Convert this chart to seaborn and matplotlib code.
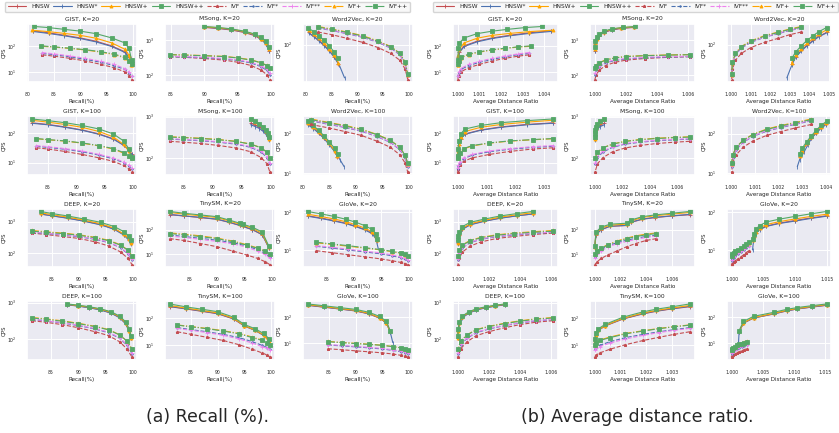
import pandas as pd
import matplotlib
matplotlib.use("Agg")
import matplotlib.pyplot as plt
from matplotlib.lines import Line2D
from matplotlib.ticker import MultipleLocator, FormatStrFormatter, NullLocator
import seaborn as sns

METHODS = ["HNSW", "HNSW*", "HNSW+", "HNSW++", "IVF", "IVF*", "IVF**", "IVF+", "IVF++"]
PANELS = [("GIST", 20), ("MSong", 20), ("Word2Vec", 20),
          ("GIST", 100), ("MSong", 100), ("Word2Vec", 100),
          ("DEEP", 20), ("TinySM", 20), ("GloVe", 20),
          ("DEEP", 100), ("TinySM", 100), ("GloVe", 100)]

# ---------------- GIST, K=20 ----------------
gist20_recall = [
    [81.0, 84, 87, 90, 93, 96, 98.5, 99.3, 99.8],
    [81.0, 84, 87, 90, 93, 96, 98.5, 99.3, 99.8],
    [80.8, 84, 87, 90, 93, 96, 98.5, 99.3, 99.7],
    [81.3, 84, 87, 90, 93, 96, 98.5, 99.3, 99.8],
    [82.8, 85, 88, 91, 94, 96.5, 98.5, 99.4, 99.9],
    [82.8, 85, 88, 91, 94, 96.5, 98.5, 99.4, 99.9],
    [82.8, 85, 88, 91, 94, 96.5, 98.5, 99.4, 99.9],
    [82.6, 85, 88, 91, 94, 96.5, 98.5, 99.4, 99.8],
    [82.6, 85, 88, 91, 94, 96.5, 98.5, 99.4, 99.8],
]
gist20_ratio = [
    [1.0043, 1.0033, 1.0024, 1.0016, 1.0009, 1.0003, 1.00008, 1.00003, 1.000005],
    [1.0043, 1.0033, 1.0024, 1.0016, 1.0009, 1.0003, 1.00008, 1.00003, 1.000005],
    [1.0044, 1.0033, 1.0024, 1.0016, 1.0009, 1.0003, 1.00008, 1.00003, 1.000005],
    [1.0039, 1.0031, 1.0023, 1.0016, 1.0009, 1.0003, 1.00008, 1.00003, 1.000005],
    [1.0033, 1.0028, 1.0022, 1.0016, 1.0010, 1.0005, 1.00015, 1.00004, 1.000005],
    [1.0033, 1.0028, 1.0022, 1.0016, 1.0010, 1.0005, 1.00015, 1.00004, 1.000005],
    [1.0033, 1.0028, 1.0022, 1.0016, 1.0010, 1.0005, 1.00015, 1.00004, 1.000005],
    [1.0034, 1.0028, 1.0022, 1.0016, 1.0010, 1.0005, 1.00015, 1.00004, 1.000005],
    [1.0034, 1.0028, 1.0022, 1.0016, 1.0010, 1.0005, 1.00015, 1.00004, 1.000005],
]
gist20_qps = [
    [370, 310, 250, 200, 150, 100, 60, 38, 21],
    [350, 295, 240, 190, 142, 95, 57, 36, 20],
    [390, 345, 295, 250, 195, 130, 75, 45, 19],
    [540, 490, 420, 360, 290, 200, 130, 80, 30],
    [46, 41, 34, 27, 20, 15, 10.5, 7.5, 5.3],
    [52, 47, 39, 31, 24, 18, 13, 9.5, 7],
    [56, 50, 42, 34, 26, 20, 14, 10, 7.5],
    [97, 90, 80, 70, 58, 47, 35, 26, 19],
    [100, 92, 82, 72, 60, 49, 37, 27, 20],
]

# ---------------- MSong, K=20 ----------------
msong20_recall = [
    [90.0, 92, 94, 96, 97.5, 98.5, 99.2, 99.7],
    [90.0, 92, 94, 96, 97.5, 98.5, 99.2, 99.7],
    [90.0, 92, 94, 96, 97.5, 98.5, 99.2, 99.7],
    [90.0, 92, 94, 96, 97.5, 98.5, 99.2, 99.7],
    [84.8, 87, 90, 93, 95, 97, 98.5, 99.3, 99.8],
    [84.8, 87, 90, 93, 95, 97, 98.5, 99.3, 99.8],
    [84.8, 87, 90, 93, 95, 97, 98.5, 99.3, 99.8],
    [84.8, 87, 90, 93, 95, 97, 98.5, 99.3, 99.8],
    [84.8, 87, 90, 93, 95, 97, 98.5, 99.3, 99.8],
]
msong20_ratio = [
    [1.0025, 1.0017, 1.0011, 1.0006, 1.0003, 1.00012, 1.00004, 1.000005],
    [1.0025, 1.0017, 1.0011, 1.0006, 1.0003, 1.00012, 1.00004, 1.000005],
    [1.0025, 1.0017, 1.0011, 1.0006, 1.0003, 1.00012, 1.00004, 1.000005],
    [1.0026, 1.0018, 1.0011, 1.0006, 1.0003, 1.00012, 1.00004, 1.000005],
    [1.0061, 1.0047, 1.0032, 1.0020, 1.0013, 1.0007, 1.0003, 1.0001, 1.00001],
    [1.0061, 1.0047, 1.0032, 1.0020, 1.0013, 1.0007, 1.0003, 1.0001, 1.00001],
    [1.0061, 1.0047, 1.0032, 1.0020, 1.0013, 1.0007, 1.0003, 1.0001, 1.00001],
    [1.0061, 1.0047, 1.0032, 1.0020, 1.0013, 1.0007, 1.0003, 1.0001, 1.00001],
    [1.0061, 1.0047, 1.0032, 1.0020, 1.0013, 1.0007, 1.0003, 1.0001, 1.00001],
]
msong20_qps = [
    [2300, 2150, 1950, 1650, 1350, 1050, 800, 500],
    [2350, 2200, 2000, 1700, 1400, 1050, 780, 480],
    [2400, 2250, 2050, 1750, 1450, 1100, 850, 560],
    [2450, 2300, 2100, 1800, 1500, 1200, 950, 650],
    [340, 325, 300, 270, 235, 190, 140, 105, 75],
    [340, 330, 315, 290, 265, 225, 175, 140, 105],
    [350, 340, 325, 300, 275, 235, 185, 150, 115],
    [390, 380, 365, 345, 315, 275, 228, 192, 158],
    [385, 375, 360, 340, 310, 270, 225, 190, 160],
]

# ---------------- Word2Vec, K=20 ----------------
w2v20_recall = [
    [80.5, 81.5, 82.5, 83.5, 84.5, 85.5, 86.3],
    [80.5, 81.5, 82.5, 83.5, 84.5, 85.5, 86.5, 87.5],
    [80.5, 81.5, 82.5, 83.5, 84.5, 85.5, 86.3],
    [80.3, 81.5, 82.5, 83.5, 84.5, 85.5, 86.3],
    [82.3, 85, 88, 91, 94, 96.5, 98.3, 99.3, 99.8],
    [82.3, 85, 88, 91, 94, 96.5, 98.3, 99.3, 99.8],
    [82.3, 85, 88, 91, 94, 96.5, 98.3, 99.3, 99.8],
    [82.3, 85, 88, 91, 94, 96.5, 98.3, 99.3, 99.8],
    [82.3, 85, 88, 91, 94, 96.5, 98.3, 99.3, 99.8],
]
w2v20_ratio = [
    [1.0049, 1.0045, 1.0042, 1.0039, 1.0036, 1.0033, 1.0031],
    [1.0049, 1.0045, 1.0042, 1.0039, 1.0036, 1.0033, 1.0031, 1.00285],
    [1.0049, 1.0045, 1.0042, 1.0039, 1.0036, 1.0033, 1.0031],
    [1.0049, 1.0045, 1.0042, 1.0039, 1.0036, 1.0033, 1.0031],
    [1.0036, 1.0030, 1.0024, 1.0017, 1.0010, 1.0005, 1.0002, 1.00005, 1.00001],
    [1.0036, 1.0030, 1.0024, 1.0017, 1.0010, 1.0005, 1.0002, 1.00005, 1.00001],
    [1.0036, 1.0030, 1.0024, 1.0017, 1.0010, 1.0005, 1.0002, 1.00005, 1.00001],
    [1.0036, 1.0030, 1.0024, 1.0017, 1.0010, 1.0005, 1.0002, 1.00005, 1.00001],
    [1.0036, 1.0030, 1.0024, 1.0017, 1.0010, 1.0005, 1.0002, 1.00005, 1.00001],
]
w2v20_qps = [
    [205, 165, 130, 98, 72, 50, 33],
    [200, 160, 125, 95, 70, 48, 30, 14.5],
    [240, 185, 145, 110, 80, 55, 35],
    [273, 215, 170, 130, 95, 65, 45],
    [210, 180, 145, 115, 85, 60, 40, 24, 13],
    [265, 230, 190, 155, 115, 82, 55, 32, 16],
    [270, 235, 195, 158, 118, 84, 57, 33, 16],
    [290, 250, 210, 170, 125, 90, 60, 35, 17],
    [280, 245, 205, 165, 122, 88, 60, 36, 18],
]

# ---------------- GIST, K=100 ----------------
gist100_recall = [
    [82.2, 85, 88, 91, 94, 96.5, 98.3, 99.2, 99.7],
    [82.2, 85, 88, 91, 94, 96.5, 98.3, 99.2, 99.7],
    [82.2, 85, 88, 91, 94, 96.5, 98.3, 99.2, 99.7],
    [82.2, 85, 88, 91, 94, 96.5, 98.3, 99.2, 99.7],
    [83.0, 85, 88, 91, 94, 96.5, 98.3, 99.3, 99.8],
    [83.0, 85, 88, 91, 94, 96.5, 98.3, 99.3, 99.8],
    [83.0, 85, 88, 91, 94, 96.5, 98.3, 99.3, 99.8],
    [83.0, 85, 88, 91, 94, 96.5, 98.3, 99.3, 99.8],
    [83.0, 85, 88, 91, 94, 96.5, 98.3, 99.3, 99.8],
]
gist100_ratio = [
    [1.0033, 1.0024, 1.0015, 1.0008, 1.00025, 1.0001, 1.00004, 1.00001, 1.000002],
    [1.0033, 1.0024, 1.0015, 1.0008, 1.00025, 1.0001, 1.00004, 1.00001, 1.000002],
    [1.0033, 1.0024, 1.0015, 1.0008, 1.00025, 1.0001, 1.00004, 1.00001, 1.000002],
    [1.0033, 1.0024, 1.0015, 1.0008, 1.00025, 1.0001, 1.00004, 1.00001, 1.000002],
    [1.0033, 1.0026, 1.0018, 1.0011, 1.0005, 1.0002, 1.00007, 1.00002, 1.000003],
    [1.0033, 1.0026, 1.0018, 1.0011, 1.0005, 1.0002, 1.00007, 1.00002, 1.000003],
    [1.0033, 1.0026, 1.0018, 1.0011, 1.0005, 1.0002, 1.00007, 1.00002, 1.000003],
    [1.0033, 1.0026, 1.0018, 1.0011, 1.0005, 1.0002, 1.00007, 1.00002, 1.000003],
    [1.0033, 1.0026, 1.0018, 1.0011, 1.0005, 1.0002, 1.00007, 1.00002, 1.000003],
]
gist100_qps = [
    [227, 200, 165, 130, 95, 65, 40, 28, 20],
    [220, 195, 160, 127, 92, 63, 39, 27, 19],
    [278, 240, 200, 160, 115, 75, 42, 25, 16],
    [308, 270, 230, 185, 140, 95, 55, 30, 15],
    [32, 29, 24, 19, 14.5, 11, 8, 6, 4.7],
    [36, 33, 28.5, 23.5, 18, 13.5, 10, 7.5, 6],
    [38, 35, 30, 25, 19, 14.5, 10.5, 8, 6.3],
    [65, 60, 54, 46, 37, 29, 21, 16.5, 14],
    [66, 61, 55, 47, 38, 30, 22, 17, 14],
]

# ---------------- MSong, K=100 ----------------
msong100_recall = [
    [96.5, 97.3, 98.0, 98.6, 99.1, 99.4, 99.6],
    [96.5, 97.3, 98.0, 98.6, 99.1, 99.4, 99.6],
    [96.5, 97.3, 98.0, 98.6, 99.1, 99.4, 99.6],
    [96.5, 97.3, 98.0, 98.6, 99.1, 99.4, 99.6],
    [82.7, 85, 88, 91, 94, 96.5, 98.3, 99.3, 99.8],
    [82.7, 85, 88, 91, 94, 96.5, 98.3, 99.3, 99.8],
    [82.7, 85, 88, 91, 94, 96.5, 98.3, 99.3, 99.8],
    [82.7, 85, 88, 91, 94, 96.5, 98.3, 99.3, 99.8],
    [82.7, 85, 88, 91, 94, 96.5, 98.3, 99.3, 99.8],
]
msong100_ratio = [
    [1.0007, 1.0004, 1.0002, 1.0001, 1.00004, 1.00001, 1.000002],
    [1.0007, 1.0004, 1.0002, 1.0001, 1.00004, 1.00001, 1.000002],
    [1.0007, 1.0004, 1.0002, 1.0001, 1.00004, 1.00001, 1.000002],
    [1.0007, 1.0004, 1.0002, 1.0001, 1.00004, 1.00001, 1.000002],
    [1.0069, 1.0058, 1.0045, 1.0033, 1.0022, 1.0013, 1.0006, 1.0002, 1.00002],
    [1.0069, 1.0058, 1.0045, 1.0033, 1.0022, 1.0013, 1.0006, 1.0002, 1.00002],
    [1.0069, 1.0058, 1.0045, 1.0033, 1.0022, 1.0013, 1.0006, 1.0002, 1.00002],
    [1.0069, 1.0058, 1.0045, 1.0033, 1.0022, 1.0013, 1.0006, 1.0002, 1.00002],
    [1.0069, 1.0058, 1.0045, 1.0033, 1.0022, 1.0013, 1.0006, 1.0002, 1.00002],
]
msong100_qps = [
    [700, 630, 560, 490, 410, 340, 290],
    [640, 580, 520, 450, 380, 320, 270],
    [860, 760, 660, 560, 460, 380, 300],
    [880, 780, 680, 580, 480, 400, 330],
    [257, 245, 228, 205, 178, 145, 105, 75, 47],
    [290, 280, 265, 245, 220, 185, 143, 105, 72],
    [297, 287, 272, 252, 228, 192, 150, 110, 76],
    [330, 320, 305, 285, 258, 222, 180, 140, 100],
    [325, 315, 300, 280, 255, 220, 180, 140, 104],
]

# ---------------- Word2Vec, K=100 ----------------
w2v100_recall = [
    [81.0, 82, 83, 84, 85, 86, 86.5],
    [81.0, 82, 83, 84, 85, 86, 87, 87.8],
    [81.0, 82, 83, 84, 85, 86, 86.5],
    [80.9, 82, 83, 84, 85, 86, 86.6],
    [81.5, 85, 88, 91, 94, 96.5, 98.3, 99.3, 99.8],
    [81.5, 85, 88, 91, 94, 96.5, 98.3, 99.3, 99.8],
    [81.5, 85, 88, 91, 94, 96.5, 98.3, 99.3, 99.8],
    [81.5, 85, 88, 91, 94, 96.5, 98.3, 99.3, 99.8],
    [81.5, 85, 88, 91, 94, 96.5, 98.3, 99.3, 99.8],
]
w2v100_ratio = [
    [1.0040, 1.0038, 1.0036, 1.0034, 1.0032, 1.0030, 1.0029],
    [1.0040, 1.0038, 1.0036, 1.0034, 1.00325, 1.0031, 1.0029, 1.0028],
    [1.0040, 1.0038, 1.0036, 1.0034, 1.0032, 1.0030, 1.0029],
    [1.00405, 1.0038, 1.0036, 1.0034, 1.0032, 1.0030, 1.0029],
    [1.0034, 1.0027, 1.0021, 1.0015, 1.0009, 1.0005, 1.0002, 1.00005, 1.00001],
    [1.0034, 1.0027, 1.0021, 1.0015, 1.0009, 1.0005, 1.0002, 1.00005, 1.00001],
    [1.0034, 1.0027, 1.0021, 1.0015, 1.0009, 1.0005, 1.0002, 1.00005, 1.00001],
    [1.0034, 1.0027, 1.0021, 1.0015, 1.0009, 1.0005, 1.0002, 1.00005, 1.00001],
    [1.0034, 1.0027, 1.0021, 1.0015, 1.0009, 1.0005, 1.0002, 1.00005, 1.00001],
]
w2v100_qps = [
    [170, 138, 105, 77, 54, 36, 26],
    [165, 134, 102, 75, 52, 35, 22, 14.5],
    [190, 150, 112, 80, 56, 37, 27],
    [205, 160, 120, 88, 62, 42, 31],
    [170, 138, 112, 90, 64, 45, 29, 18, 10.5],
    [210, 170, 142, 115, 84, 60, 39, 24, 14.5],
    [215, 175, 146, 118, 86, 61, 40, 25, 15],
    [234, 190, 160, 130, 95, 68, 45, 28, 17],
    [225, 185, 155, 127, 93, 67, 45, 28, 18],
]

# ---------------- DEEP, K=20 ----------------
deep20_recall = [
    [82.9, 85, 88, 91, 94, 96.5, 98.3, 99.2, 99.6],
    [82.9, 85, 88, 91, 94, 96.5, 98.3, 99.2, 99.6],
    [82.9, 85, 88, 91, 94, 96.5, 98.3, 99.2, 99.6],
    [82.9, 85, 88, 91, 94, 96.5, 98.3, 99.2, 99.6],
    [81.3, 84, 87, 90, 93, 95.5, 97.7, 99.0, 99.8],
    [81.3, 84, 87, 90, 93, 95.5, 97.7, 99.0, 99.8],
    [81.3, 84, 87, 90, 93, 95.5, 97.7, 99.0, 99.8],
    [81.3, 84, 87, 90, 93, 95.5, 97.7, 99.0, 99.8],
    [81.3, 84, 87, 90, 93, 95.5, 97.7, 99.0, 99.8],
]
deep20_ratio = [
    [1.0048, 1.0038, 1.0027, 1.0017, 1.0008, 1.0003, 1.0001, 1.00003, 1.000005],
    [1.0048, 1.0038, 1.0027, 1.0017, 1.0008, 1.0003, 1.0001, 1.00003, 1.000005],
    [1.0048, 1.0038, 1.0027, 1.0017, 1.0008, 1.0003, 1.0001, 1.00003, 1.000005],
    [1.0048, 1.0038, 1.0027, 1.0017, 1.0008, 1.0003, 1.0001, 1.00003, 1.000005],
    [1.0061, 1.0048, 1.0036, 1.0025, 1.0015, 1.0008, 1.0003, 1.0001, 1.00001],
    [1.0061, 1.0048, 1.0036, 1.0025, 1.0015, 1.0008, 1.0003, 1.0001, 1.00001],
    [1.0061, 1.0048, 1.0036, 1.0025, 1.0015, 1.0008, 1.0003, 1.0001, 1.00001],
    [1.0061, 1.0048, 1.0036, 1.0025, 1.0015, 1.0008, 1.0003, 1.0001, 1.00001],
    [1.0061, 1.0048, 1.0036, 1.0025, 1.0015, 1.0008, 1.0003, 1.0001, 1.00001],
]
deep20_qps = [
    [1740, 1530, 1290, 1040, 810, 590, 390, 270, 205],
    [1740, 1520, 1270, 1020, 790, 570, 375, 260, 200],
    [1900, 1650, 1380, 1100, 860, 620, 400, 280, 214],
    [2090, 1800, 1500, 1200, 950, 700, 480, 350, 263],
    [436, 390, 340, 295, 230, 170, 110, 70, 44],
    [460, 420, 380, 335, 277, 218, 150, 97, 64],
    [470, 430, 390, 345, 285, 225, 155, 100, 66],
    [525, 480, 435, 385, 320, 258, 185, 128, 85],
    [500, 460, 420, 372, 310, 250, 180, 125, 83],
]

# ---------------- TinySM, K=20 ----------------
tiny20_recall = [
    [81.4, 84, 87, 90, 92.3, 94.2, 94.7, 96.5, 98.3, 99.5],
    [81.4, 84, 87, 90, 92.3, 94.2, 94.7, 96.5, 98.3, 99.5],
    [81.4, 84, 87, 90, 92.3, 94.2, 94.7, 96.5, 98.3, 99.5],
    [81.4, 84, 87, 90, 92.3, 94.2, 94.7, 96.5, 98.3, 99.5],
    [81.4, 84, 87, 90, 93, 95.5, 97.5, 98.8, 99.7],
    [81.4, 84, 87, 90, 93, 95.5, 97.5, 98.8, 99.7],
    [81.4, 84, 87, 90, 93, 95.5, 97.5, 98.8, 99.7],
    [81.4, 84, 87, 90, 93, 95.5, 97.5, 98.8, 99.7],
    [81.4, 84, 87, 90, 93, 95.5, 97.5, 98.8, 99.7],
]
tiny20_ratio = [
    [1.0074, 1.0060, 1.0047, 1.0037, 1.0028, 1.0025, 1.0012, 1.0005, 1.0001, 1.000005],
    [1.0074, 1.0060, 1.0047, 1.0037, 1.0028, 1.0025, 1.0012, 1.0005, 1.0001, 1.000005],
    [1.0074, 1.0060, 1.0047, 1.0037, 1.0028, 1.0025, 1.0012, 1.0005, 1.0001, 1.000005],
    [1.0074, 1.0060, 1.0047, 1.0037, 1.0028, 1.0025, 1.0012, 1.0005, 1.0001, 1.000005],
    [1.0048, 1.0040, 1.0032, 1.0025, 1.0017, 1.0010, 1.0005, 1.0002, 1.00001],
    [1.0048, 1.0040, 1.0032, 1.0025, 1.0017, 1.0010, 1.0005, 1.0002, 1.00001],
    [1.0048, 1.0040, 1.0032, 1.0025, 1.0017, 1.0010, 1.0005, 1.0002, 1.00001],
    [1.0048, 1.0040, 1.0032, 1.0025, 1.0017, 1.0010, 1.0005, 1.0002, 1.00001],
    [1.0048, 1.0040, 1.0032, 1.0025, 1.0017, 1.0010, 1.0005, 1.0002, 1.00001],
]
tiny20_qps = [
    [420, 370, 320, 270, 200, 150, 138, 100, 62, 18],
    [430, 375, 325, 275, 205, 152, 140, 102, 63, 18],
    [520, 440, 380, 320, 230, 170, 155, 115, 70, 19],
    [570, 480, 410, 347, 250, 186, 170, 128, 80, 21],
    [43, 36, 27, 20, 13, 9, 6.5, 4.8, 3.6],
    [60, 53, 44, 37, 29, 21, 15, 10.5, 7.5],
    [55, 48, 40, 33, 26, 19, 13, 9.5, 6.7],
    [74, 66, 56, 45, 34, 24, 17.5, 13, 10],
    [69, 62, 52, 43, 32, 23, 17, 13, 10],
]

# ---------------- GloVe, K=20 ----------------
glove20_recall = [
    [81.6, 84, 86.4, 88.5, 90.2, 92, 93.3, 94, 94.3],
    [81.6, 84, 86.4, 88.5, 90.2, 92, 93.3, 94, 94.5],
    [81.6, 84, 86.4, 88.5, 90.2, 92, 93.3, 94, 94.3],
    [81.6, 84, 86.4, 88.5, 90.2, 92, 93.3, 94, 94.3],
    [83.2, 86, 89, 92, 95, 97, 98.5, 99.3, 99.8],
    [83.2, 86, 89, 92, 95, 97, 98.5, 99.3, 99.8],
    [83.2, 86, 89, 92, 95, 97, 98.5, 99.3, 99.8],
    [83.2, 86, 89, 92, 95, 97, 98.5, 99.3, 99.8],
    [83.2, 86, 89, 92, 95, 97, 98.5, 99.3, 99.8],
]
glove20_ratio = [
    [1.0150, 1.0125, 1.0100, 1.0075, 1.0055, 1.0044, 1.0038, 1.0035, 1.0033],
    [1.0150, 1.0125, 1.0100, 1.0075, 1.0055, 1.0044, 1.0038, 1.0035, 1.0033],
    [1.0150, 1.0125, 1.0100, 1.0075, 1.0055, 1.0044, 1.0038, 1.0035, 1.0033],
    [1.0150, 1.0125, 1.0100, 1.0075, 1.0055, 1.0044, 1.0038, 1.0035, 1.0033],
    [1.0027, 1.0023, 1.0019, 1.0015, 1.0010, 1.0006, 1.0003, 1.0001, 1.00001],
    [1.0027, 1.0023, 1.0019, 1.0015, 1.0010, 1.0006, 1.0003, 1.0001, 1.00001],
    [1.0027, 1.0023, 1.0019, 1.0015, 1.0010, 1.0006, 1.0003, 1.0001, 1.00001],
    [1.0027, 1.0023, 1.0019, 1.0015, 1.0010, 1.0006, 1.0003, 1.0001, 1.00001],
    [1.0027, 1.0023, 1.0019, 1.0015, 1.0010, 1.0006, 1.0003, 1.0001, 1.00001],
]
glove20_qps = [
    [80, 70, 60, 51, 43, 35, 28, 22, 17],
    [78, 68, 58, 50, 42, 34, 27, 20, 10],
    [88, 77, 66, 56, 47, 38, 30, 23, 18],
    [104, 90, 77, 65, 55, 44, 35, 27, 20],
    [9.6, 8.5, 7.5, 6.6, 5.8, 5.2, 4.7, 4.4, 4.1],
    [12.5, 11.3, 10, 8.9, 7.9, 7, 6.3, 5.7, 5.2],
    [13, 11.8, 10.5, 9.3, 8.3, 7.4, 6.6, 6, 5.5],
    [15.5, 14, 12.6, 11.2, 10, 9, 8.2, 7.6, 7],
    [16, 14.5, 13, 11.5, 10.2, 9.2, 8.4, 7.7, 7],
]

# ---------------- DEEP, K=100 ----------------
deep100_recall = [
    [88.0, 90, 92, 94, 96, 97.5, 98.6, 99.3, 99.6],
    [88.0, 90, 92, 94, 96, 97.5, 98.6, 99.3, 99.6],
    [88.0, 90, 92, 94, 96, 97.5, 98.6, 99.3, 99.6],
    [88.0, 90, 92, 94, 96, 97.5, 98.6, 99.3, 99.6],
    [81.5, 84, 87, 90, 93, 95.5, 97.5, 98.8, 99.8],
    [81.5, 84, 87, 90, 93, 95.5, 97.5, 98.8, 99.8],
    [81.5, 84, 87, 90, 93, 95.5, 97.5, 98.8, 99.8],
    [81.5, 84, 87, 90, 93, 95.5, 97.5, 98.8, 99.8],
    [81.5, 84, 87, 90, 93, 95.5, 97.5, 98.8, 99.8],
]
deep100_ratio = [
    [1.0030, 1.0024, 1.0018, 1.0012, 1.0007, 1.0003, 1.0001, 1.00003, 1.000005],
    [1.0030, 1.0024, 1.0018, 1.0012, 1.0007, 1.0003, 1.0001, 1.00003, 1.000005],
    [1.0030, 1.0024, 1.0018, 1.0012, 1.0007, 1.0003, 1.0001, 1.00003, 1.000005],
    [1.0030, 1.0024, 1.0018, 1.0012, 1.0007, 1.0003, 1.0001, 1.00003, 1.000005],
    [1.0061, 1.0050, 1.0040, 1.0030, 1.0020, 1.0012, 1.0006, 1.0002, 1.00001],
    [1.0061, 1.0050, 1.0040, 1.0030, 1.0020, 1.0012, 1.0006, 1.0002, 1.00001],
    [1.0061, 1.0050, 1.0040, 1.0030, 1.0020, 1.0012, 1.0006, 1.0002, 1.00001],
    [1.0061, 1.0050, 1.0040, 1.0030, 1.0020, 1.0012, 1.0006, 1.0002, 1.00001],
    [1.0061, 1.0050, 1.0040, 1.0030, 1.0020, 1.0012, 1.0006, 1.0002, 1.00001],
]
deep100_qps = [
    [880, 810, 730, 640, 520, 395, 270, 165, 110],
    [870, 800, 720, 630, 510, 385, 265, 160, 105],
    [900, 830, 750, 660, 540, 410, 280, 170, 110],
    [920, 850, 770, 680, 560, 430, 300, 190, 122],
    [320, 290, 250, 205, 160, 125, 85, 55, 32],
    [345, 315, 278, 235, 190, 150, 106, 70, 40],
    [350, 320, 283, 240, 195, 155, 110, 72, 42],
    [390, 360, 318, 272, 225, 183, 132, 90, 52],
    [380, 350, 310, 265, 220, 180, 130, 90, 54],
]

# ---------------- TinySM, K=100 ----------------
tiny100_recall = [
    [81.0, 84, 87, 90, 93, 95, 97, 98.6, 99.6],
    [81.0, 84, 87, 90, 93, 95, 97, 98.6, 99.6],
    [81.0, 84, 87, 90, 93, 95, 97, 98.6, 99.6],
    [81.0, 84, 87, 90, 93, 95, 97, 98.6, 99.6],
    [82.4, 85, 88, 91, 94, 96.5, 98.3, 99.3, 99.8],
    [82.4, 85, 88, 91, 94, 96.5, 98.3, 99.3, 99.8],
    [82.4, 85, 88, 91, 94, 96.5, 98.3, 99.3, 99.8],
    [82.4, 85, 88, 91, 94, 96.5, 98.3, 99.3, 99.8],
    [82.4, 85, 88, 91, 94, 96.5, 98.3, 99.3, 99.8],
]
tiny100_ratio = [
    [1.0037, 1.0030, 1.0024, 1.0019, 1.0011, 1.0004, 1.00015, 1.00004, 1.000005],
    [1.0037, 1.0030, 1.0024, 1.0019, 1.0011, 1.0004, 1.00015, 1.00004, 1.000005],
    [1.0037, 1.0030, 1.0024, 1.0019, 1.0011, 1.0004, 1.00015, 1.00004, 1.000005],
    [1.0037, 1.0030, 1.0024, 1.0019, 1.0011, 1.0004, 1.00015, 1.00004, 1.000005],
    [1.0037, 1.0031, 1.0025, 1.0019, 1.0012, 1.0006, 1.0002, 1.00006, 1.00001],
    [1.0037, 1.0031, 1.0025, 1.0019, 1.0012, 1.0006, 1.0002, 1.00006, 1.00001],
    [1.0037, 1.0031, 1.0025, 1.0019, 1.0012, 1.0006, 1.0002, 1.00006, 1.00001],
    [1.0037, 1.0031, 1.0025, 1.0019, 1.0012, 1.0006, 1.0002, 1.00006, 1.00001],
    [1.0037, 1.0031, 1.0025, 1.0019, 1.0012, 1.0006, 1.0002, 1.00006, 1.00001],
]
tiny100_qps = [
    [253, 210, 172, 140, 90, 50, 35, 23, 15],
    [260, 215, 176, 143, 92, 51, 35, 23, 15],
    [280, 225, 185, 150, 95, 52, 36, 24, 14],
    [318, 250, 205, 166, 105, 57, 40, 27, 17.6],
    [31, 25, 19.5, 15, 10.5, 7.2, 5.3, 4.4, 3.7],
    [44, 37, 31, 25, 19, 13.5, 10, 8.3, 7.3],
    [41, 35, 29, 23, 17, 12, 9, 7.8, 6.9],
    [55, 48, 41, 34, 27, 20, 15.5, 12.5, 10.3],
    [54, 47, 40, 33, 26, 19, 15, 12.5, 10.6],
]

# ---------------- GloVe, K=100 ----------------
glove100_recall = [
    [81.0, 84, 87, 90, 92.5, 94.5, 95.8, 96.5],
    [81.0, 84, 87, 90, 92.5, 94.5, 95.8, 96.5, 97.0],
    [81.0, 84, 87, 90, 92.5, 94.5, 95.8, 96.5],
    [81.0, 84, 87, 90, 92.5, 94.5, 95.8, 96.5],
    [84.8, 87.5, 90, 92.5, 95, 97, 98.5, 99.3, 99.8],
    [84.8, 87.5, 90, 92.5, 95, 97, 98.5, 99.3, 99.8],
    [84.8, 87.5, 90, 92.5, 95, 97, 98.5, 99.3, 99.8],
    [84.8, 87.5, 90, 92.5, 95, 97, 98.5, 99.3, 99.8],
    [84.8, 87.5, 90, 92.5, 95, 97, 98.5, 99.3, 99.8],
]
glove100_ratio = [
    [1.0152, 1.0128, 1.0105, 1.0088, 1.0068, 1.0035, 1.0019, 1.0012],
    [1.0152, 1.0128, 1.0105, 1.0088, 1.0068, 1.0035, 1.0019, 1.0012, 1.0011],
    [1.0152, 1.0128, 1.0105, 1.0088, 1.0068, 1.0035, 1.0019, 1.0012],
    [1.0152, 1.0128, 1.0105, 1.0088, 1.0068, 1.0035, 1.0019, 1.0012],
    [1.0024, 1.0020, 1.0016, 1.0012, 1.0008, 1.0005, 1.0002, 1.0001, 1.00001],
    [1.0024, 1.0020, 1.0016, 1.0012, 1.0008, 1.0005, 1.0002, 1.0001, 1.00001],
    [1.0024, 1.0020, 1.0016, 1.0012, 1.0008, 1.0005, 1.0002, 1.0001, 1.00001],
    [1.0024, 1.0020, 1.0016, 1.0012, 1.0008, 1.0005, 1.0002, 1.0001, 1.00001],
    [1.0024, 1.0020, 1.0016, 1.0012, 1.0008, 1.0005, 1.0002, 1.0001, 1.00001],
]
glove100_qps = [
    [300, 255, 215, 180, 138, 94, 60, 27],
    [305, 258, 217, 182, 140, 95, 60, 27, 10],
    [320, 270, 225, 190, 145, 98, 62, 28],
    [340, 290, 245, 208, 160, 110, 70, 30],
    [5.8, 5.3, 4.8, 4.4, 4.0, 3.6, 3.2, 2.9, 2.7],
    [8.2, 7.5, 6.9, 6.3, 5.7, 5.0, 4.4, 4.0, 3.7],
    [8.5, 7.8, 7.2, 6.6, 6.0, 5.3, 4.7, 4.3, 3.9],
    [11.3, 10.3, 9.5, 8.8, 8.0, 7.1, 6.3, 5.7, 5.1],
    [11.0, 10.0, 9.3, 8.6, 7.9, 7.0, 6.3, 5.7, 5.2],
]

DATA = [
    (gist20_recall, gist20_ratio, gist20_qps),
    (msong20_recall, msong20_ratio, msong20_qps),
    (w2v20_recall, w2v20_ratio, w2v20_qps),
    (gist100_recall, gist100_ratio, gist100_qps),
    (msong100_recall, msong100_ratio, msong100_qps),
    (w2v100_recall, w2v100_ratio, w2v100_qps),
    (deep20_recall, deep20_ratio, deep20_qps),
    (tiny20_recall, tiny20_ratio, tiny20_qps),
    (glove20_recall, glove20_ratio, glove20_qps),
    (deep100_recall, deep100_ratio, deep100_qps),
    (tiny100_recall, tiny100_ratio, tiny100_qps),
    (glove100_recall, glove100_ratio, glove100_qps),
]
# tick step for the distance-ratio axes
RATIO_STEP = [0.001, 0.002, 0.001, 0.001, 0.002, 0.001,
              0.002, 0.002, 0.005, 0.002, 0.001, 0.005]

COLORS = {"HNSW": "#C44E52", "HNSW*": "#4C72B0", "HNSW+": "#FFA500", "HNSW++": "#55A868",
          "IVF": "#C44E52", "IVF*": "#4C72B0", "IVF**": "#EE82EE", "IVF+": "#FFA500", "IVF++": "#55A868"}
MARKERS = {"HNSW": "+", "HNSW*": "|", "HNSW+": "^", "HNSW++": "s",
           "IVF": "*", "IVF*": ".", "IVF**": "+", "IVF+": "^", "IVF++": "s"}
LINESTYLES = {"HNSW": "-", "HNSW*": "-", "HNSW+": "-", "HNSW++": "-",
              "IVF": "--", "IVF*": "--", "IVF**": "--", "IVF+": "-.", "IVF++": "-."}

# long table
rows = []
for p, (rec, rat, qps) in enumerate(DATA):
    for m, r_, a_, q_ in zip(METHODS, rec, rat, qps):
        for r, a, q in zip(r_, a_, q_):
            rows.append((p, m, r, a, q))
df = pd.DataFrame(rows, columns=["panel", "method", "recall", "ratio", "qps"])

sns.set_theme(style="darkgrid", rc={"grid.linewidth": 0.7})
plt.rcParams["font.family"] = ["DejaVu Sans"]

fig = plt.figure(figsize=(8.39, 4.33), dpi=100)
gs_a = fig.add_gridspec(4, 3, left=0.032, right=0.492, top=0.945, bottom=0.169,
                        wspace=0.25, hspace=0.58)
gs_b = fig.add_gridspec(4, 3, left=0.540, right=0.991, top=0.945, bottom=0.169,
                        wspace=0.31, hspace=0.58)

for p, (name, k) in enumerate(PANELS):
    sub = df[df["panel"] == p]
    for gs, xcol, xlabel in [(gs_a, "recall", "Recall(%)"),
                             (gs_b, "ratio", "Average Distance Ratio")]:
        ax = fig.add_subplot(gs[p // 3, p % 3])
        for m in METHODS:
            d = sub[sub["method"] == m]
            sns.lineplot(data=d, x=xcol, y="qps", ax=ax, color=COLORS[m],
                         marker=MARKERS[m], linestyle=LINESTYLES[m],
                         markersize=2.2, markeredgewidth=0.6, markeredgecolor=COLORS[m],
                         linewidth=0.8, sort=False, estimator=None, errorbar=None,
                         legend=False)
        ax.set_yscale("log")
        ax.yaxis.set_minor_locator(NullLocator())
        ax.set_title(f"{name}, K={k}", fontsize=4.3, pad=2.5)
        ax.set_xlabel(xlabel, fontsize=4.1, labelpad=1.5)
        ax.set_ylabel("QPS", fontsize=3.8, labelpad=0.8)
        ax.tick_params(labelsize=3.3, pad=1.2)
        if xcol == "recall":
            ax.xaxis.set_major_locator(MultipleLocator(5))
        else:
            ax.xaxis.set_major_locator(MultipleLocator(RATIO_STEP[p]))
            ax.xaxis.set_major_formatter(FormatStrFormatter("%.3f"))

handles = [Line2D([0], [0], color=COLORS[m], marker=MARKERS[m], linestyle=LINESTYLES[m],
                  markersize=2.2, markeredgewidth=0.6, linewidth=0.8) for m in METHODS]
for x0 in (0.006, 0.516):
    fig.legend(handles, METHODS, loc="upper left", bbox_to_anchor=(x0, 0.996, 0.483, 0.0),
               mode="expand", ncol=9, fontsize=4.2, frameon=True, handlelength=3.2,
               borderaxespad=0, borderpad=0.45, columnspacing=1.0, handletextpad=0.8,
               edgecolor="#cccccc", facecolor="#f7f7f7")

fig.text(0.247, 0.037, "(a) Recall (%).", ha="center", va="center", fontsize=12.5)
fig.text(0.759, 0.037, "(b) Average distance ratio.", ha="center", va="center", fontsize=12.5)

fig.savefig("out.png", dpi=100)
